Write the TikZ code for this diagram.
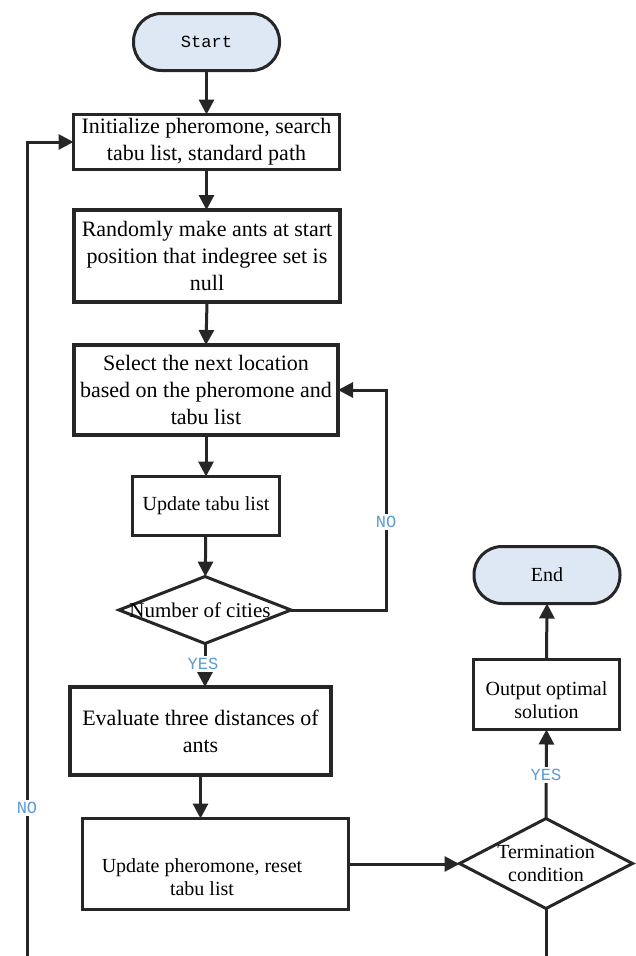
\documentclass[tikz,border=0pt]{standalone}
\usepackage{fontspec}
\setmainfont{Liberation Serif}
\newfontfamily\labelfont{Liberation Mono}
\usetikzlibrary{shapes.geometric,arrows.meta}
\definecolor{ink}{HTML}{262626}
\definecolor{termfill}{HTML}{DEE8F4}
\definecolor{lblue}{HTML}{5B9BD5}
\begin{document}
\begin{tikzpicture}[x=1pt,y=-1pt,
  every node/.style={inner sep=0pt, outer sep=0pt},
  proc/.style={draw=ink, line width=3pt, rectangle, align=center, fill=white,
               font=\fontsize{22}{27}\selectfont},
  procb/.style={proc, line width=4pt},
  term/.style={draw=ink, line width=3pt, rounded corners=28pt, fill=termfill,
               minimum width=146pt, minimum height=57pt},
  dec/.style={draw=ink, line width=3pt, diamond, fill=white},
  txt/.style={align=center, font=\fontsize{20}{23}\selectfont},
  flow/.style={draw=ink, line width=3pt, -{Triangle[length=15pt,width=15pt]}},
  plain/.style={draw=ink, line width=3pt},
  lab/.style={fill=white, text=lblue, inner sep=2pt,
              font=\labelfont\fontsize{17}{17}\selectfont}
]
\useasboundingbox (0,0) rectangle (636,956);

% main column
\node[term, font=\labelfont\fontsize{17}{17}\selectfont] (start) at (206.5,42) {Start};
\node[proc, minimum width=266pt, minimum height=55pt] (init) at (206.5,142)
  {Initialize pheromone, search\\tabu list, standard path};
\node[procb, minimum width=266pt, minimum height=92pt] (rand) at (207,256)
  {Randomly make ants at start\\position that indegree set is\\null};
\node[procb, minimum width=264pt, minimum height=90pt] (sel) at (206,390)
  {Select the next location\\based on the pheromone and\\tabu list};
\node[proc, minimum width=147pt, minimum height=59pt, font=\fontsize{20}{20}\selectfont]
  (upd) at (206,506) {Update tabu list};
\node[dec, minimum width=172pt, minimum height=67pt] (cities) at (205,610) {};
\node[font=\fontsize{21}{21}\selectfont] (citiestxt) at (200,610) {Number of cities};
\node[procb, minimum width=261pt, minimum height=88pt] (eval) at (200.5,731)
  {Evaluate three distances of\\ants};
\node[proc, minimum width=266pt, minimum height=91pt] (updp) at (215.5,864) {};
\node[txt] (updptxt) at (202,877) {Update pheromone, reset\\tabu list};

% right column
\node[dec, minimum width=173pt, minimum height=90pt] (stop) at (546,863.5) {};
\node[txt] (stoptxt) at (stop) {Termination\\condition};
\node[proc, minimum width=146pt, minimum height=70pt] (out) at (546.5,694.5) {};
\node[txt] (outtxt) at (546.5,700) {Output optimal\\solution};
\node[term, font=\fontsize{20}{20}\selectfont] (end) at (547,575) {End};

% connectors
\draw[flow] (start) -- (init);
\draw[flow] (init) -- (init |- rand.north);
\draw[flow] (rand.south) -- (sel.north);
\draw[flow] (sel) -- (upd);
\draw[flow] (upd) -- (cities);
\draw[flow] (cities.south) -- (cities.south |- eval.north);
\draw[flow] (eval.south) -- (eval.south |- updp.north);
\draw[flow] (updp.east) -- (updp.east -| stop.west);
\draw[flow] (stop.north) -- (out.south);
\draw[flow] (out.north) -- (end.south);

% back loop to the location choice
\coordinate (loopR) at (386,610);
\draw[flow] (cities.east) -- (loopR) |- (sel.east);
\node[lab] (no1) at (386,522) {NO};

% back loop to the initialisation
\coordinate (loopL) at (27,956);
\draw[flow] (loopL) |- (init.west);
\node[lab] (no2) at (27,808) {NO};

% exit below the termination test
\coordinate (exitB) at (546,956);
\draw[plain] (stop.south) -- (exitB);

\node[lab] (yes1) at (203,664) {YES};
\node[lab] (yes2) at (546,775) {YES};
\end{tikzpicture}
\end{document}
